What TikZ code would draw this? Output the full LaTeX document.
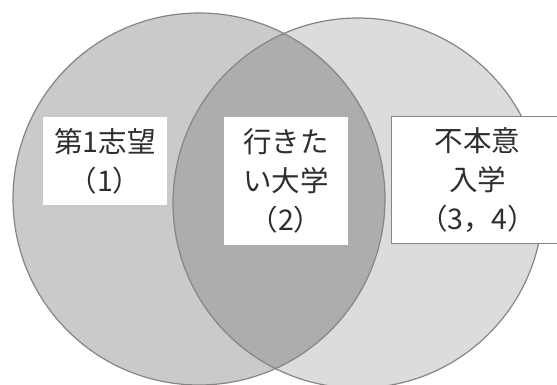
\documentclass[tikz,border=0pt]{standalone}
\usepackage{fontspec}
\newfontfamily\jp{Noto Sans CJK JP}
\definecolor{leftfill}{HTML}{CACACA}
\definecolor{rightfill}{HTML}{DCDCDC}
\definecolor{midfill}{HTML}{ADADAD}
\definecolor{edge}{HTML}{858585}
\definecolor{ink}{HTML}{2E2E2E}
\begin{document}
\begin{tikzpicture}[x=1pt,y=-1pt,
  setcircle/.style={circle, inner sep=0pt, draw=edge, line width=1.2pt},
  labelbox/.style={fill=white, inner sep=0pt, align=center, text=ink,
     font=\jp\fontsize{28.5}{39}\selectfont}]
\useasboundingbox (0,0) rectangle (557,385);
% fills
\fill[rightfill] (358,203) circle (185);
\fill[leftfill] (199,199) circle (186);
\begin{scope}
  \clip (199,199) circle (186);
  \fill[midfill] (358,203) circle (185);
\end{scope}
% outlines
\node[setcircle, minimum size=370pt] (R) at (358,203) {};
\node[setcircle, minimum size=372pt] (L) at (199,199) {};
% labels
\node[labelbox, minimum width=124pt, minimum height=88pt] (b1) at (105,161) {第1志望\\（1）};
\node[labelbox, minimum width=124pt, minimum height=127pt] (b2) at (286,181) {行きた\\い大学\\（2）};
\node[labelbox, draw=edge, line width=1.3pt, minimum width=172pt, minimum height=127pt, anchor=west] (b3) at (391,180) {不本意\\入学\\（3，4）};
\end{tikzpicture}
\end{document}
